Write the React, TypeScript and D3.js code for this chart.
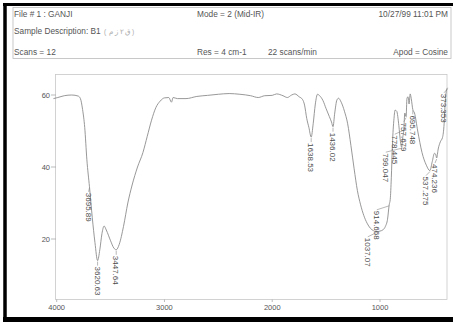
import React from 'react';
import * as d3 from 'd3';

// IR spectrum (wavenumber cm-1 -> %T)
const wavenumbers = [
  4030, 3990, 3930, 3860, 3800, 3780, 3760, 3740, 3720, 3695.89, 3670, 3645, 3620.63, 3600, 3580, 3560,
  3540, 3500, 3470, 3447.64, 3420, 3380, 3340, 3300, 3250, 3200, 3160, 3120, 3080, 3040, 3000, 2960,
  2935, 2920, 2880, 2800, 2700, 2600, 2500, 2400, 2300, 2200, 2130, 2070, 2000, 1960, 1900, 1860,
  1820, 1790, 1750, 1720, 1700, 1680, 1660, 1638.53, 1620, 1600, 1580, 1560, 1530, 1500, 1470, 1450,
  1436.02, 1420, 1400, 1385, 1360, 1330, 1300, 1270, 1240, 1210, 1180, 1150, 1120, 1090, 1060, 1037.07,
  1000, 970, 950, 930, 914.668, 905, 895, 885, 870, 860, 845, 825, 810, 799.047, 790, 778.445,
  770, 757.679, 750, 740, 730, 720, 710, 695.748, 680, 650, 610, 570, 537.275, 515, 495, 484,
  474.236, 460, 440, 420, 405, 395, 385, 373.353,
];
const transmittance = [
  59.0, 59.3, 59.8, 60.0, 59.7, 59.0, 56, 51, 42, 34.5, 26, 19, 14.0, 17, 21.5, 23.6,
  22.5, 19.5, 17.5, 17.0, 18.5, 23.5, 30, 35, 40, 44, 48.5, 53, 56.5, 58.3, 59.2, 59.3,
  58.0, 59.3, 59.0, 59.0, 59.6, 59.9, 60.2, 60.4, 60.2, 59.8, 59.3, 59.8, 59.9, 60.3, 59.8, 59.3,
  60.0, 60.3, 59.5, 58.8, 57.2, 53.5, 51, 48.3, 52, 57.5, 60.2, 59.8, 58.5, 56.2, 54, 52.5,
  51.2, 55, 58.6, 59.1, 58, 55.5, 52, 46, 39.5, 33.5, 29.5, 26.5, 24.4, 23, 22.3, 22.0,
  22.2, 22.6, 23.5, 25.5, 29.5, 31, 37, 46, 53.5, 55.8, 55.5, 51.5, 47, 45.5, 48, 50.5,
  55, 54, 59, 59.5, 57.5, 60.3, 59, 56, 55, 50, 44, 40.5, 39.0, 41.5, 43.8, 43.6,
  42.5, 45, 47, 48.2, 52, 58, 61, 62,
];

const peakPositions = [
  3695.89, 3620.63, 3447.64, 1638.53, 1436.02, 1037.07, 914.668, 799.047, 778.445, 757.679,
  695.748, 537.275, 474.236, 373.353,
];
const peakTexts = [
  '3695.89', '3620.63', '3447.64', '1638.53', '1436.02', '1037.07', '914.668', '799.047', '778.445',
  '757.679', '695.748', '537.275', '474.236', '373.353',
];

const xTicks = [4000, 3000, 2000, 1000];
const yTicks = [20, 40, 60];

const headerLeft = ['File # 1 : GANJI', 'Sample Description: B1', 'Scans = 12'];
const headerMid = ['Mode = 2 (Mid-IR)', '', 'Res = 4 cm-1'];
const headerRight = ['10/27/99 11:01 PM', '', 'Apod = Cosine'];

const W = 453;
const H = 322;
const font = 'Liberation Sans, Arial, sans-serif';
const ink = '#555';

export default function App() {
  const x = d3.scaleLinear().domain([4000, 1000]).range([56.7, 380]);
  const y = d3.scaleLinear().domain([0, 60]).range([311, 95]);

  const line = d3
    .line<number>()
    .x((_, i) => x(wavenumbers[i]))
    .y((d) => y(d))
    .curve(d3.curveMonotoneX);

  // peak labels, pushed left when they crowd each other
  const peaks = peakPositions
    .map((wn, i) => {
      const k = wavenumbers.indexOf(wn);
      return { wn, text: peakTexts[i], px: x(wn), py: y(transmittance[k]) };
    })
    .sort((a, b) => b.px - a.px);
  let prev = 453;
  const labels = peaks.map((p) => {
    const lx = Math.min(p.px, prev - 9, 444);
    prev = lx;
    return { ...p, lx, ly: p.py + 5 };
  });

  const rows = [16.5, 34, 54.5];

  return (
    <svg
      width={W}
      height={H}
      style={{ position: 'absolute', left: 0, top: 0, background: '#fff' }}
      fontFamily={font}
    >
      <rect x={0} y={0} width={W} height={H} fill="#fff" />

      {/* header box */}
      <rect x={13} y={7.5} width={438} height={51} fill="none" stroke="#bbb" strokeWidth={0.8} />
      {rows.map((ry, i) => (
        <g key={i} fontSize={8.3} fill={ink}>
          <text x={14} y={ry}>{headerLeft[i]}</text>
          <text x={197} y={ry}>{headerMid[i]}</text>
          <text x={448} y={ry} textAnchor="end">{headerRight[i]}</text>
        </g>
      ))}
      <text x={268} y={rows[2]} fontSize={8.3} fill={ink}>22 scans/min</text>
      <text x={104} y={rows[1] - 0.5} fontSize={6.5} fill="#aaa">(</text>
      <text x={109} y={rows[1] - 0.5} fontSize={6.5} fill="#aaa" direction="rtl" unicodeBidi="embed" textAnchor="end">
        ق ٢ ز م
      </text>
      <text x={132} y={rows[1] - 0.5} fontSize={6.5} fill="#aaa">)</text>

      {/* plot frame */}
      <rect x={55.5} y={74.5} width={391.5} height={225} fill="none" stroke="#c8c8c8" strokeWidth={0.8} />

      {/* y axis */}
      {yTicks.map((t) => (
        <g key={t}>
          <line x1={51} x2={56} y1={y(t)} y2={y(t)} stroke="#aaa" strokeWidth={0.8} />
          <text x={50} y={y(t)} dy="0.35em" textAnchor="end" fontSize={7.5} fill={ink}>
            {t}
          </text>
        </g>
      ))}

      {/* x axis */}
      {xTicks.map((t) => (
        <g key={t}>
          <line x1={x(t)} x2={x(t)} y1={299.5} y2={302} stroke="#aaa" strokeWidth={0.8} />
          <text x={x(t)} y={310} textAnchor="middle" fontSize={7.5} fill={ink}>
            {t}
          </text>
        </g>
      ))}

      {/* spectrum */}
      <path d={line(transmittance) || ''} fill="none" stroke="#858585" strokeWidth={0.85} />

      {/* peak labels */}
      {labels.map((p) => (
        <g key={p.text}>
          <line x1={p.px} y1={p.py + 1} x2={p.lx} y2={p.ly} stroke="#888" strokeWidth={0.6} />
          <text
            transform={`translate(${p.lx},${p.ly + 1}) rotate(90)`}
            dy="0.35em"
            fontSize={8}
            fill="#4a4a4a"
          >
            {p.text}
          </text>
        </g>
      ))}

      {/* scanned page border */}
      <line x1={3} x2={W} y1={4.5} y2={4.5} stroke="#000" strokeWidth={3} />
      <line x1={5} x2={5} y1={3} y2={H} stroke="#000" strokeWidth={3.5} />
      <rect x={3} y={317} width={W} height={5} fill="#000" />
    </svg>
  );
}
